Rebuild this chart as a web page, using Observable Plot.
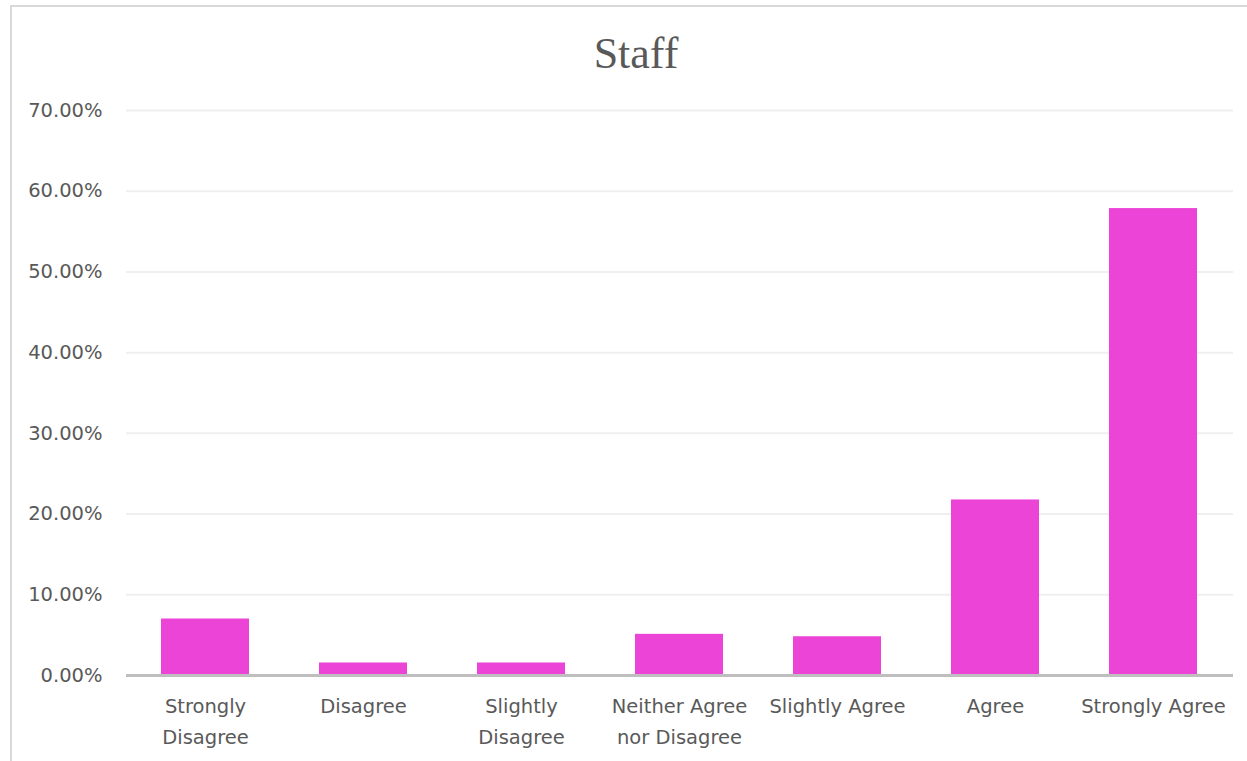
<!DOCTYPE html>
<html>
<head>
<meta charset="utf-8">
<script src="https://cdn.jsdelivr.net/npm/d3@7"></script>
<script src="https://cdn.jsdelivr.net/npm/@observablehq/plot@0.6"></script>
<style>
  html, body { margin: 0; padding: 0; background: #fff; }
  #wrap { position: relative; width: 1247px; height: 761px; overflow: hidden; }
  #frame {
    position: absolute; left: 10px; top: 5px; width: 1260px; height: 800px;
    border-top: 2px solid #d9d9d9; border-left: 2px solid #d9d9d9;
  }
  #chart { position: absolute; left: 0; top: 0; }
</style>
</head>
<body>
<div id="wrap">
  <div id="frame"></div>
  <div id="chart"></div>
</div>
<script>
// Survey responses for staff (share of respondents, %)
const categories = [
  "Strongly Disagree",
  "Disagree",
  "Slightly Disagree",
  "Neither Agree nor Disagree",
  "Slightly Agree",
  "Agree",
  "Strongly Agree"
];
const values = [7.0, 1.55, 1.55, 5.1, 4.8, 21.75, 57.85];
// Axis labels as they wrap under each bar
const categoryLabels = [
  "Strongly\nDisagree",
  "Disagree",
  "Slightly\nDisagree",
  "Neither Agree\nnor Disagree",
  "Slightly Agree",
  "Agree",
  "Strongly Agree"
];
const yTicks = [0, 10, 20, 30, 40, 50, 60, 70];
const title = "Staff";

const data = categories.map((c, i) => ({category: c, value: values[i]}));
const labelOf = new Map(categories.map((c, i) => [c, categoryLabels[i]]));

const chart = Plot.plot({
  width: 1247,
  height: 761,
  marginLeft: 126,
  marginRight: 14,
  marginTop: 110,
  marginBottom: 86,
  style: {fontFamily: "DejaVu Sans", fontSize: "19.5px", color: "#595959", background: "transparent"},
  x: {domain: categories, paddingInner: 0.443, paddingOuter: 0.2215, label: null},
  y: {domain: [0, 70], ticks: yTicks, label: null},
  marks: [
    Plot.ruleY(yTicks.filter(d => d > 0), {stroke: "#efefef", strokeWidth: 2}),
    Plot.barY(data, {x: "category", y: "value", fill: "#ec44d7"}),
    Plot.ruleY([0], {stroke: "#bfbfbf", strokeWidth: 3}),
    Plot.axisY({
      ticks: yTicks, tickSize: 0, tickPadding: 24, label: null,
      tickFormat: d => d.toFixed(2) + "%"
    }),
    Plot.axisX({
      tickSize: 0, tickPadding: 16, label: null, lineHeight: 1.58,
      tickFormat: d => labelOf.get(d)
    }),
    Plot.text([title], {
      frameAnchor: "top", dx: -44, dy: -43, text: d => d,
      fontFamily: "Liberation Serif", fontSize: 44, fill: "#595959",
      lineAnchor: "bottom"
    })
  ]
});
document.getElementById("chart").appendChild(chart);
</script>
</body>
</html>
